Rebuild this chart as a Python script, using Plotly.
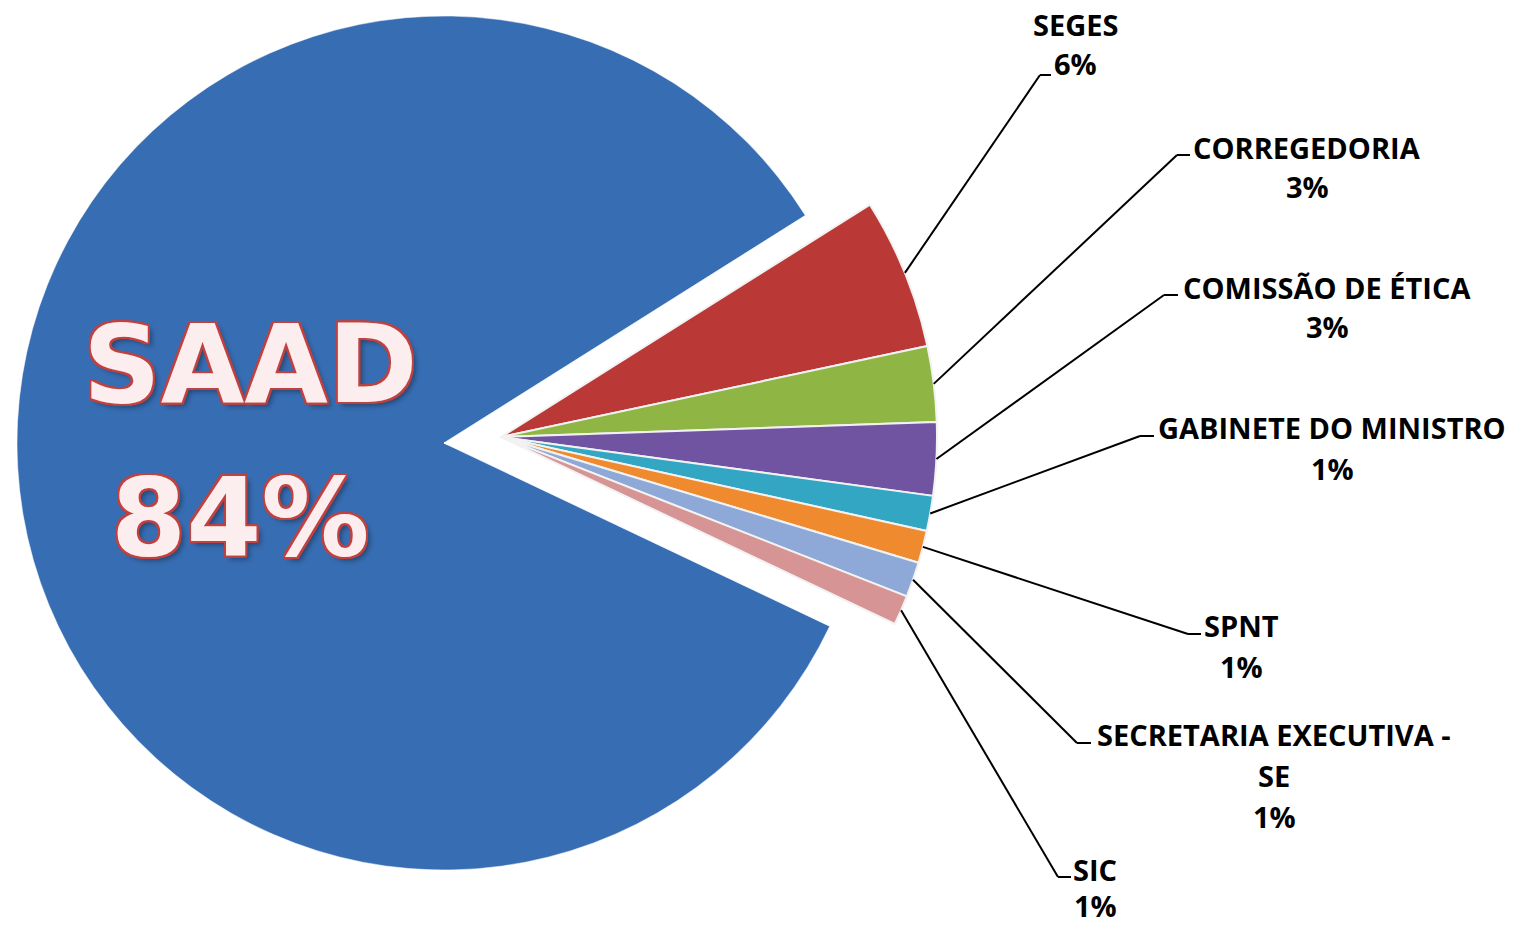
import math
import plotly.graph_objects as go

# ---------------- data ----------------
labels = ["SAAD", "SEGES", "CORREGEDORIA", "COMISSÃO DE ÉTICA",
          "GABINETE DO MINISTRO", "SPNT", "SECRETARIA EXECUTIVA - SE", "SIC"]
values = [84.0, 5.6, 2.8, 2.7, 1.3, 1.2, 1.3, 1.1]
label_lines = [["SAAD"], ["SEGES"], ["CORREGEDORIA"], ["COMISSÃO DE ÉTICA"],
               ["GABINETE DO MINISTRO"], ["SPNT"], ["SECRETARIA EXECUTIVA -", "SE"], ["SIC"]]
colors = ["#376DB3", "#BA3936", "#8FB545", "#7053A1", "#33A6C4",
          "#EF8A2E", "#8EA9D8", "#D79494"]

# ---------------- layout constants (pixels of the page) ----------------
W, H = 1516, 927          # figure size (page margin removed by post_script)
OFF = 0
ROTATION = 115.4
BLUE_C, BLUE_R = (444, 443), 427
FAN_C, FAN_R = (501, 437), 436

# leader elbow (x, y), end x of the short horizontal tick, label centre x, first-line centre y, line step
label_pos = {
    "SEGES": ((1040, 75), 1051, 1075, 24, 40),
    "CORREGEDORIA": ((1177, 155), 1190, 1307, 147, 40),
    "COMISSÃO DE ÉTICA": ((1164, 295), 1178, 1327, 287, 40),
    "GABINETE DO MINISTRO": ((1140, 436), 1154, 1332, 428, 40),
    "SPNT": ((1188, 634), 1201, 1241, 625, 41),
    "SECRETARIA EXECUTIVA - SE": ((1077, 743), 1091, 1274, 734, 41),
    "SIC": ((1058, 877), 1071, 1095, 869, 36),
}


def px(x):
    return (x - OFF) / W


def py(y):
    return 1 - (y - OFF) / H


def domain(c, r):
    cx, cy = c
    x0 = max(0.0, (cx - OFF - r) / W)
    x1 = min(1.0, (cx - OFF + r) / W)
    y0 = max(0.0, 1 - (cy - OFF + r) / H)
    y1 = min(1.0, 1 - (cy - OFF - r) / H)
    return dict(x=[x0, x1], y=[y0, y1])


transparent = "rgba(0,0,0,0)"
blue_colors = [colors[0]] + [transparent] * (len(values) - 1)
fan_colors = [transparent] + colors[1:]

fig = go.Figure()
fig.add_trace(go.Pie(
    labels=labels, values=values, sort=False, direction="clockwise",
    rotation=ROTATION, textinfo="none", hoverinfo="label+percent",
    marker=dict(colors=blue_colors, line=dict(color="rgba(255,255,255,0.5)", width=1)),
    domain=domain(BLUE_C, BLUE_R), showlegend=False,
))
fig.add_trace(go.Pie(
    labels=labels, values=values, sort=False, direction="clockwise",
    rotation=ROTATION, textinfo="none", hoverinfo="label+percent",
    marker=dict(colors=fan_colors,
                line=dict(color=[transparent] + ["#F2F2F2"] * (len(values) - 1), width=2)),
    domain=domain(FAN_C, FAN_R), showlegend=False,
))

total = sum(values)
shapes = []
annotations = []
cum = 0.0
for i, (lab, v) in enumerate(zip(labels, values)):
    start = ROTATION + 360 * cum / total
    mid = math.radians(start + 180 * v / total)
    cum += v
    pct = f"{round(100 * v / total)}%"
    if i == 0:
        continue
    sx = FAN_C[0] + FAN_R * math.sin(mid)
    sy = FAN_C[1] - FAN_R * math.cos(mid)
    (ex, ey), tx, cx, cy, step = label_pos[lab]
    line_style = dict(color="black", width=2)
    shapes.append(dict(type="line", xref="paper", yref="paper",
                       x0=px(sx), y0=py(sy), x1=px(ex), y1=py(ey), line=line_style))
    shapes.append(dict(type="line", xref="paper", yref="paper",
                       x0=px(ex), y0=py(ey), x1=px(tx), y1=py(ey), line=line_style))
    lines = label_lines[i] + [pct]
    for k, txt in enumerate(lines):
        annotations.append(dict(
            x=px(cx), y=py(cy + k * step), xref="paper", yref="paper",
            text=txt, showarrow=False, xanchor="center", yanchor="middle",
            font=dict(family="Open Sans", size=29, color="black", weight="bold"),
        ))

# big SAAD label
outline = "#C0413F"
shadow = ", ".join([f"{dx}px {dy}px 0 {outline}" for dx, dy in
                    [(2, 0), (-2, 0), (0, 2), (0, -2), (2, 2), (-2, -2), (2, -2), (-2, 2)]]
                   + ["4px 4px 5px rgba(0,0,0,0.35)"])
saad_pct = f"{round(100 * values[0] / total)}%"
for txt, (cx, cy) in [(labels[0], (250, 365)), (saad_pct, (240, 517))]:
    annotations.append(dict(
        x=px(cx), y=py(cy), xref="paper", yref="paper", text=txt, showarrow=False,
        xanchor="center", yanchor="middle",
        font=dict(family="DejaVu Sans", size=108, color="#FCEDEE", weight="bold",
                  shadow=shadow),
    ))

fig.update_layout(
    width=W, height=H, margin=dict(l=0, r=0, t=0, b=0),
    paper_bgcolor="white", plot_bgcolor="white",
    shapes=shapes, annotations=annotations, showlegend=False,
)
fig.write_html(
    "out.html",
    config={"displayModeBar": False},
    post_script="document.body.style.margin='0px';"
                "document.documentElement.style.overflow='hidden';",
)
